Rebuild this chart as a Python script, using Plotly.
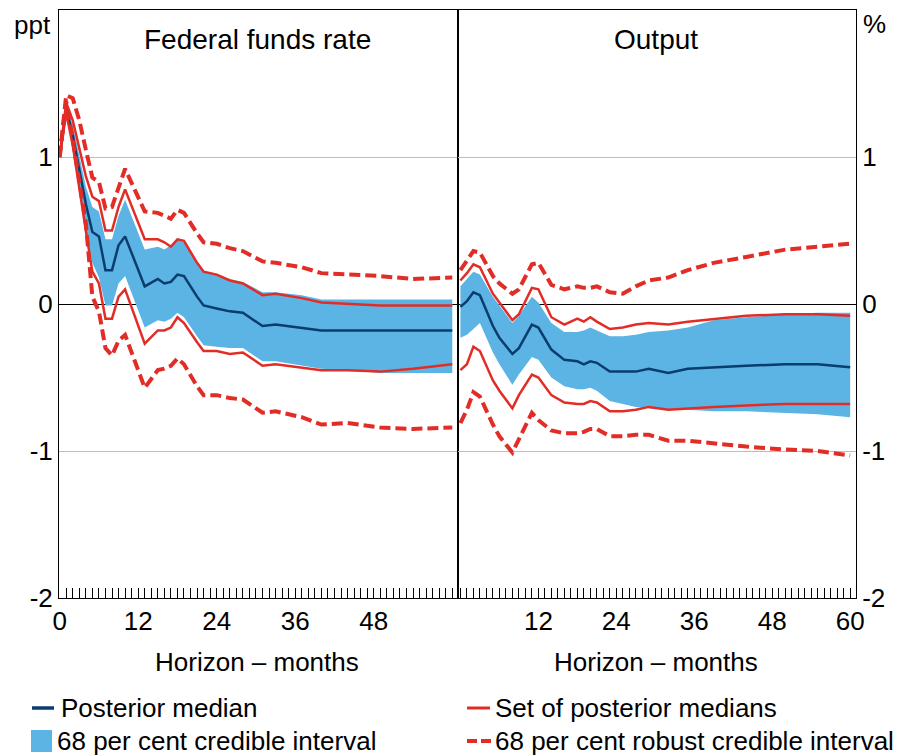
import plotly.graph_objects as go

# ---------------- data ----------------
# Federal funds rate panel (ppt)
ffr_months = [0, 1, 2, 3, 4, 5, 6, 7, 8, 9, 10, 13, 15, 16, 17, 18, 19, 21, 22, 24, 26, 28,
              31, 33, 37, 40, 44, 49, 54, 60]
ffr_median = [1.0, 1.33, 1.15, 0.92, 0.68, 0.49, 0.46, 0.23, 0.23, 0.40, 0.46, 0.12, 0.17, 0.14,
              0.15, 0.20, 0.19, 0.05, -0.01, -0.03, -0.05, -0.06, -0.15, -0.14, -0.16, -0.18,
              -0.18, -0.18, -0.18, -0.18]
ffr_set_upper = [1.0, 1.37, 1.25, 1.05, 0.87, 0.73, 0.70, 0.50, 0.50, 0.66, 0.78, 0.44, 0.44,
                 0.42, 0.39, 0.44, 0.43, 0.28, 0.22, 0.20, 0.16, 0.14, 0.06, 0.07, 0.04, 0.01,
                 0.0, -0.01, -0.01, -0.01]
ffr_set_lower = [1.0, 1.30, 1.08, 0.78, 0.50, 0.22, 0.14, -0.10, -0.10, 0.05, 0.10, -0.27, -0.18,
                 -0.18, -0.16, -0.09, -0.13, -0.26, -0.32, -0.32, -0.34, -0.33, -0.42, -0.41,
                 -0.43, -0.45, -0.45, -0.46, -0.44, -0.41]
ffr_band_upper = [1.0, 1.35, 1.22, 1.0, 0.80, 0.66, 0.63, 0.44, 0.44, 0.60, 0.71, 0.37, 0.39,
                  0.37, 0.40, 0.44, 0.42, 0.28, 0.22, 0.20, 0.17, 0.15, 0.08, 0.08, 0.06, 0.03,
                  0.03, 0.03, 0.03, 0.03]
ffr_band_lower = [1.0, 1.30, 1.05, 0.78, 0.50, 0.28, 0.18, -0.01, -0.01, 0.14, 0.19, -0.16, -0.11,
                  -0.12, -0.10, -0.06, -0.09, -0.22, -0.28, -0.29, -0.30, -0.30, -0.39, -0.39,
                  -0.42, -0.44, -0.45, -0.47, -0.47, -0.47]
ffr_robust_upper = [1.0, 1.42, 1.40, 1.25, 1.05, 0.86, 0.83, 0.65, 0.66, 0.80, 0.92, 0.63, 0.62,
                    0.60, 0.58, 0.64, 0.62, 0.48, 0.42, 0.41, 0.38, 0.36, 0.29, 0.28, 0.25, 0.21,
                    0.20, 0.19, 0.17, 0.18]
ffr_robust_lower = [1.0, 1.38, 1.12, 0.85, 0.55, 0.05, -0.05, -0.30, -0.35, -0.25, -0.21, -0.57,
                    -0.45, -0.44, -0.42, -0.37, -0.41, -0.56, -0.62, -0.62, -0.64, -0.65, -0.74,
                    -0.73, -0.77, -0.82, -0.81, -0.84, -0.85, -0.84]

# Output panel (%)
out_months = [0, 1, 2, 3, 5, 6, 8, 9, 11, 12, 14, 16, 18, 19, 20, 21, 23, 25, 27, 29, 32, 35,
              39, 44, 50, 55, 60]
out_median = [-0.02, 0.02, 0.08, 0.06, -0.15, -0.23, -0.34, -0.30, -0.14, -0.16, -0.31, -0.38,
              -0.39, -0.41, -0.39, -0.40, -0.46, -0.46, -0.46, -0.44, -0.47, -0.44, -0.43,
              -0.42, -0.41, -0.41, -0.43]
out_set_upper = [0.16, 0.21, 0.27, 0.25, 0.07, 0.01, -0.11, -0.07, 0.11, 0.10, -0.09, -0.14,
                 -0.10, -0.12, -0.09, -0.12, -0.17, -0.16, -0.14, -0.13, -0.14, -0.12, -0.10,
                 -0.08, -0.07, -0.07, -0.08]
out_set_lower = [-0.45, -0.41, -0.29, -0.32, -0.52, -0.59, -0.71, -0.62, -0.48, -0.50, -0.62,
                 -0.67, -0.68, -0.68, -0.66, -0.67, -0.73, -0.73, -0.72, -0.70, -0.72, -0.71,
                 -0.70, -0.69, -0.68, -0.68, -0.68]
out_band_upper = [0.12, 0.17, 0.22, 0.20, 0.05, -0.01, -0.13, -0.08, 0.05, 0.01, -0.13, -0.19,
                  -0.19, -0.18, -0.16, -0.18, -0.22, -0.22, -0.21, -0.19, -0.18, -0.16, -0.11,
                  -0.09, -0.07, -0.06, -0.06]
out_band_lower = [-0.23, -0.21, -0.17, -0.13, -0.33, -0.41, -0.55, -0.48, -0.36, -0.38, -0.50,
                  -0.56, -0.58, -0.58, -0.57, -0.59, -0.66, -0.68, -0.70, -0.71, -0.72, -0.72,
                  -0.73, -0.73, -0.74, -0.75, -0.77]
out_robust_upper = [0.23, 0.30, 0.36, 0.35, 0.19, 0.14, 0.07, 0.10, 0.27, 0.28, 0.13, 0.10, 0.12,
                    0.11, 0.11, 0.12, 0.08, 0.07, 0.12, 0.16, 0.18, 0.23, 0.28, 0.32, 0.37,
                    0.39, 0.41]
out_robust_lower = [-0.81, -0.72, -0.60, -0.63, -0.82, -0.90, -1.01, -0.92, -0.74, -0.79, -0.86,
                    -0.88, -0.88, -0.87, -0.85, -0.85, -0.90, -0.90, -0.89, -0.89, -0.93,
                    -0.93, -0.95, -0.97, -0.99, -1.00, -1.03]

left_ticks = [0, 12, 24, 36, 48]
right_ticks = [12, 24, 36, 48, 60]
y_ticks = [-2, -1, 0, 1]
panel_titles = ["Federal funds rate", "Output"]
axis_title = "Horizon – months"
legend_labels = ["Posterior median", "Set of posterior medians",
                 "68 per cent credible interval", "68 per cent robust credible interval"]

# ---------------- style ----------------
NAVY = "#0B3C6E"
BAND = "#5BB4E3"
RED = "#E22D27"
FONT = "Liberation Sans, Arial, sans-serif"
W, H = 907, 756
L, R, T, B = 59, 856, 10, 598


def px(x):
    return (x - L) / (R - L)


def py(y):
    return (B - y) / (B - T)


fig = go.Figure()

panels = [
    ("x", "y", ffr_months, ffr_median, ffr_set_upper, ffr_set_lower, ffr_band_upper,
     ffr_band_lower, ffr_robust_upper, ffr_robust_lower),
    ("x2", "y2", out_months, out_median, out_set_upper, out_set_lower, out_band_upper,
     out_band_lower, out_robust_upper, out_robust_lower),
]

for xa, ya, m, med, su, sl, bu, bl, ru, rl in panels:
    common = dict(xaxis=xa, yaxis=ya, hoverinfo="skip", showlegend=False)
    fig.add_trace(go.Scatter(x=m, y=bl, mode="lines", line=dict(width=0), **common))
    fig.add_trace(go.Scatter(x=m, y=bu, mode="lines", line=dict(width=0), fill="tonexty",
                             fillcolor=BAND, **common))
    fig.add_trace(go.Scatter(x=m, y=med, mode="lines", line=dict(color=NAVY, width=2.5),
                             **common))
    fig.add_trace(go.Scatter(x=m, y=su, mode="lines", line=dict(color=RED, width=2.5), **common))
    fig.add_trace(go.Scatter(x=m, y=sl, mode="lines", line=dict(color=RED, width=2.5), **common))
    fig.add_trace(go.Scatter(x=m, y=ru, mode="lines",
                             line=dict(color=RED, width=4, dash="11px,5px"), **common))
    fig.add_trace(go.Scatter(x=m, y=rl, mode="lines",
                             line=dict(color=RED, width=4, dash="11px,5px"), **common))

xcommon = dict(showline=True, linecolor="black", linewidth=1, mirror=True, showgrid=False,
               zeroline=False, ticks="inside", ticklen=10, tickcolor="black", tickwidth=1,
               tickfont=dict(family=FONT, size=26, color="black"), ticklabelstandoff=0,
               minor=dict(tickmode="linear", tick0=0, dtick=1, ticks="inside", ticklen=10,
                          tickcolor="black", tickwidth=1, showgrid=False))
ycommon = dict(range=[-2, 2], tickmode="array", tickvals=y_ticks,
               ticktext=[str(v) for v in y_ticks], showline=True, linecolor="black",
               linewidth=1, mirror=True, showgrid=True, gridcolor="#BDBDBD", gridwidth=1,
               zeroline=True, zerolinecolor="black", zerolinewidth=1, ticks="",
               tickfont=dict(family=FONT, size=26, color="black"))

fig.update_layout(
    width=W, height=H,
    margin=dict(l=L, r=W - R, t=T, b=H - B),
    paper_bgcolor="white", plot_bgcolor="white",
    showlegend=False,
    xaxis=dict(domain=[0, 0.5], range=[-0.1, 60.8], tickmode="array", tickvals=left_ticks,
               ticktext=[str(v) for v in left_ticks], anchor="y", **xcommon),
    xaxis2=dict(domain=[0.5, 1], range=[-0.45, 60.9], tickmode="array", tickvals=right_ticks,
                ticktext=[str(v) for v in right_ticks], anchor="y2", **xcommon),
    yaxis=dict(anchor="x", side="left", ticklabelstandoff=0, **ycommon),
    yaxis2=dict(anchor="x2", side="right", ticklabelstandoff=0, **ycommon),
)

ann = []
tfont = dict(family=FONT, size=28, color="black")
afont = dict(family=FONT, size=26, color="black")
ann.append(dict(text=panel_titles[0], x=px(257), y=py(40), xref="paper", yref="paper",
                showarrow=False, font=tfont, xanchor="center", yanchor="middle"))
ann.append(dict(text=panel_titles[1], x=px(656), y=py(40), xref="paper", yref="paper",
                showarrow=False, font=tfont, xanchor="center", yanchor="middle"))
ann.append(dict(text="ppt", x=px(32), y=py(25), xref="paper", yref="paper", showarrow=False,
                font=afont, xanchor="center", yanchor="middle"))
ann.append(dict(text="%", x=px(874), y=py(24), xref="paper", yref="paper", showarrow=False,
                font=afont, xanchor="center", yanchor="middle"))
ann.append(dict(text=axis_title, x=px(257), y=py(662), xref="paper", yref="paper",
                showarrow=False, font=afont, xanchor="center", yanchor="middle"))
ann.append(dict(text=axis_title, x=px(656), y=py(662), xref="paper", yref="paper",
                showarrow=False, font=afont, xanchor="center", yanchor="middle"))

# legend (manual, two columns)
leg = [(legend_labels[0], 59, 708), (legend_labels[1], 493, 708),
       (legend_labels[2], 55, 741), (legend_labels[3], 493, 741)]
for text, x0, y0 in leg:
    ann.append(dict(text=text, x=px(x0), y=py(y0), xref="paper", yref="paper",
                    showarrow=False, font=afont, xanchor="left", yanchor="middle"))

shapes = [
    dict(type="line", xref="paper", yref="paper", x0=px(32), x1=px(54), y0=py(708), y1=py(708),
         line=dict(color=NAVY, width=3.5)),
    dict(type="line", xref="paper", yref="paper", x0=px(467), x1=px(490), y0=py(708),
         y1=py(708), line=dict(color=RED, width=3)),
    dict(type="rect", xref="paper", yref="paper", x0=px(31), x1=px(52), y0=py(752), y1=py(730),
         fillcolor=BAND, line=dict(width=0)),
    dict(type="line", xref="paper", yref="paper", x0=px(467), x1=px(477), y0=py(741),
         y1=py(741), line=dict(color=RED, width=4)),
    dict(type="line", xref="paper", yref="paper", x0=px(481), x1=px(491), y0=py(741),
         y1=py(741), line=dict(color=RED, width=4)),
]

fig.update_layout(annotations=ann, shapes=shapes)
fig.write_html("out.html")
